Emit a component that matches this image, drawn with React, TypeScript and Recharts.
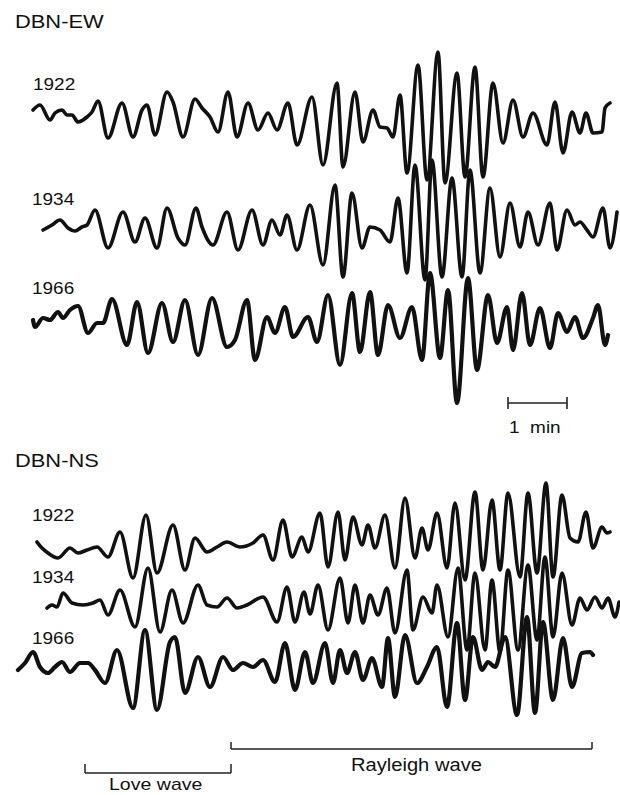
import React from "react";
import { LineChart, Line, XAxis, YAxis, ReferenceLine } from "recharts";

// Time (s, from trace origin) and ground-motion amplitude (relative units, + up)
const ew1922T = [3,10,20,25,32,37,42,48,57,62,68,78,92,103,112,117,125,137,143,153,165,172,180,188,198,207,218,228,238,247,258,267,282,293,307,313,325,333,343,350,357,363,370,377,388,397,408,415,427,435,445,453,463,473,483,493,503,517,525,533,542,550,556,563,572,575,580];
const ew1922A = [8,13,-2,5,8,3,3,-4,1,6,17,-20,15,-19,8,13,-17,26,16,-19,19,10,1,-14,26,-19,15,-12,5,-12,15,-27,21,-47,35,-49,26,-24,8,-9,-10,-19,23,-55,53,-62,66,-65,45,-59,51,-59,35,-25,18,-19,5,-27,16,-35,6,-15,5,-15,-14,10,15];

const ew1934T = [13,22,30,38,45,52,57,65,78,93,105,115,127,137,148,155,166,172,183,197,208,222,233,242,250,257,267,280,293,305,313,322,332,340,350,360,368,377,385,395,402,412,422,432,440,450,460,470,480,490,498,508,520,527,537,545,550,557,563,573,580,587];
const ew1934A = [-2,3,8,0,-3,1,3,18,-20,16,-14,10,-20,20,-10,-17,20,1,-17,16,-22,18,-17,8,-7,13,-22,23,-37,43,-49,35,-20,1,-2,-14,30,-45,63,-52,68,-49,50,-49,58,-45,40,-29,25,-19,16,-17,25,-22,18,3,6,-2,-9,20,-20,16];

const ew1966T = [3,5,13,20,28,33,40,48,58,67,73,82,97,107,118,132,143,155,168,182,197,205,217,225,237,245,255,263,278,287,298,310,322,330,340,348,358,370,382,392,400,410,418,427,438,447,458,467,477,483,492,500,510,520,528,537,545,553,563,568,575,578];
const ew1966A = [5,-2,7,5,13,7,15,19,-8,2,2,26,-20,23,-28,22,-17,25,-30,27,-22,-15,25,-35,8,-8,18,-12,8,-17,30,-40,32,-27,33,-30,20,-13,18,-35,52,-33,35,-78,47,-45,30,-18,18,-25,32,-20,17,-23,12,-7,8,-13,7,20,-20,-10];

const ns1922T = [7,12,18,28,40,48,57,67,78,90,103,116,127,143,155,165,177,187,197,210,223,233,243,253,262,272,278,290,298,308,315,323,332,338,345,355,365,375,385,392,398,407,417,425,435,445,453,462,470,478,490,498,507,516,523,532,540,548,556,563,572,577,580];
const ns1922A = [3,-3,-8,-13,-3,-8,-5,-2,-12,13,-33,30,-28,20,-25,7,-7,-2,3,-2,2,10,-15,25,-12,8,-7,32,-22,33,-15,28,0,20,-3,30,-23,47,-13,17,-5,32,-23,42,-35,53,-25,45,-25,52,-32,52,-28,62,-32,50,7,3,33,-3,18,12,13];

const ns1934T = [17,22,27,33,42,53,63,70,78,90,105,118,130,142,153,168,177,187,197,207,217,233,247,257,265,274,280,288,298,310,318,325,333,340,348,357,365,377,383,393,402,407,418,428,437,445,455,462,470,478,488,498,507,515,523,532,542,550,557,565,572,578,585,589];
const ns1934A = [-3,0,-2,12,2,0,2,5,-10,15,-22,37,-27,15,-18,20,0,-2,7,-3,0,8,-17,18,-17,13,-9,20,-25,27,-18,20,-18,10,-10,17,-28,35,-25,8,-8,20,-32,37,-45,32,-45,25,-47,35,-45,40,-35,48,-32,32,-20,7,-5,8,-3,7,-12,3];

const ns1966T = [-12,-5,3,10,18,25,32,40,50,58,65,75,87,103,115,127,140,145,155,168,180,193,203,213,223,233,245,255,265,275,283,295,303,310,317,325,333,342,352,358,365,375,387,397,407,417,427,435,443,452,458,465,475,487,497,505,513,523,533,542,552,560,563];
const ns1966A = [-5,2,13,-2,-8,-2,3,-7,2,2,-5,-18,15,-43,35,-45,23,28,-28,8,-22,8,-5,2,-2,5,-17,22,-25,13,-18,22,-18,15,-8,13,-15,7,-22,27,-32,30,-18,-2,18,-42,42,-35,28,-5,3,-2,28,-50,48,-48,43,-35,27,-22,12,13,10];

const yearLabels = ["1922", "1934", "1966"];
const stationLabels = ["DBN-EW", "DBN-NS"];

// layout: trace baselines in chart units
const TRACES = [
  { key: "ew1922", t: ew1922T, a: ew1922A, base: 118, w: 3.6 },
  { key: "ew1934", t: ew1934T, a: ew1934A, base: 228, w: 3.6 },
  { key: "ew1966", t: ew1966T, a: ew1966A, base: 325, w: 4.2 },
  { key: "ns1922", t: ns1922T, a: ns1922A, base: 545, w: 3.6 },
  { key: "ns1934", t: ns1934T, a: ns1934A, base: 605, w: 3.6 },
  { key: "ns1966", t: ns1966T, a: ns1966A, base: 665, w: 4.2 },
];

const series = TRACES.map((tr) => ({
  ...tr,
  data: tr.t.map((t, i) => ({ t, y: tr.base - tr.a[i] })),
}));

const font = "'Liberation Sans', Arial, Helvetica, sans-serif";

const Txt = ({ left, top, size, children }: any) => (
  <div
    style={{
      position: "absolute",
      left,
      top,
      fontFamily: font,
      fontSize: size,
      lineHeight: 1,
      color: "#111",
      whiteSpace: "pre",
      transform: "scaleX(1.15)",
      transformOrigin: "left center",
    }}
  >
    {children}
  </div>
);

const bracket = "#222";

export default function App() {
  return (
    <div style={{ position: "absolute", left: 0, top: 0, width: 620, height: 795, background: "#fff", overflow: "hidden" }}>
      <LineChart width={620} height={795} margin={{ top: 0, right: 0, bottom: 0, left: 0 }}>
        <XAxis type="number" dataKey="t" domain={[-30, 590]} hide allowDataOverflow />
        <YAxis type="number" domain={[0, 795]} reversed hide allowDataOverflow />
        {series.map((s) => (
          <Line
            key={s.key}
            data={s.data}
            dataKey="y"
            type="monotone"
            stroke="#111"
            strokeWidth={s.w}
            strokeLinejoin="round"
            strokeLinecap="round"
            dot={false}
            activeDot={false}
            isAnimationActive={false}
          />
        ))}
        {/* 1 min scale bar */}
        <ReferenceLine segment={[{ x: 478, y: 403 }, { x: 537, y: 403 }]} stroke={bracket} strokeWidth={1.6} ifOverflow="visible" />
        <ReferenceLine segment={[{ x: 478, y: 397 }, { x: 478, y: 409 }]} stroke={bracket} strokeWidth={1.6} ifOverflow="visible" />
        <ReferenceLine segment={[{ x: 537, y: 397 }, { x: 537, y: 409 }]} stroke={bracket} strokeWidth={1.6} ifOverflow="visible" />
        {/* Love wave bracket */}
        <ReferenceLine segment={[{ x: 55, y: 773 }, { x: 201, y: 773 }]} stroke={bracket} strokeWidth={1.5} ifOverflow="visible" />
        <ReferenceLine segment={[{ x: 55, y: 764 }, { x: 55, y: 773 }]} stroke={bracket} strokeWidth={1.5} ifOverflow="visible" />
        <ReferenceLine segment={[{ x: 201, y: 764 }, { x: 201, y: 773 }]} stroke={bracket} strokeWidth={1.5} ifOverflow="visible" />
        {/* Rayleigh wave bracket */}
        <ReferenceLine segment={[{ x: 201, y: 749 }, { x: 562, y: 749 }]} stroke={bracket} strokeWidth={1.5} ifOverflow="visible" />
        <ReferenceLine segment={[{ x: 201, y: 742 }, { x: 201, y: 749 }]} stroke={bracket} strokeWidth={1.5} ifOverflow="visible" />
        <ReferenceLine segment={[{ x: 562, y: 742 }, { x: 562, y: 749 }]} stroke={bracket} strokeWidth={1.5} ifOverflow="visible" />
      </LineChart>

      <Txt left={15} top={12} size={19}>{stationLabels[0]}</Txt>
      <Txt left={15} top={451} size={19}>{stationLabels[1]}</Txt>

      <Txt left={33} top={76} size={16.5}>{yearLabels[0]}</Txt>
      <Txt left={32} top={191} size={16.5}>{yearLabels[1]}</Txt>
      <Txt left={32} top={280} size={16.5}>{yearLabels[2]}</Txt>
      <Txt left={32} top={507} size={16.5}>{yearLabels[0]}</Txt>
      <Txt left={32} top={569} size={16.5}>{yearLabels[1]}</Txt>
      <Txt left={32} top={630} size={16.5}>{yearLabels[2]}</Txt>

      <Txt left={509} top={419} size={16.5}>{"1  min"}</Txt>
      <Txt left={351} top={757} size={17.5}>{"Rayleigh wave"}</Txt>
      <Txt left={109} top={776} size={17}>{"Love wave"}</Txt>
    </div>
  );
}
